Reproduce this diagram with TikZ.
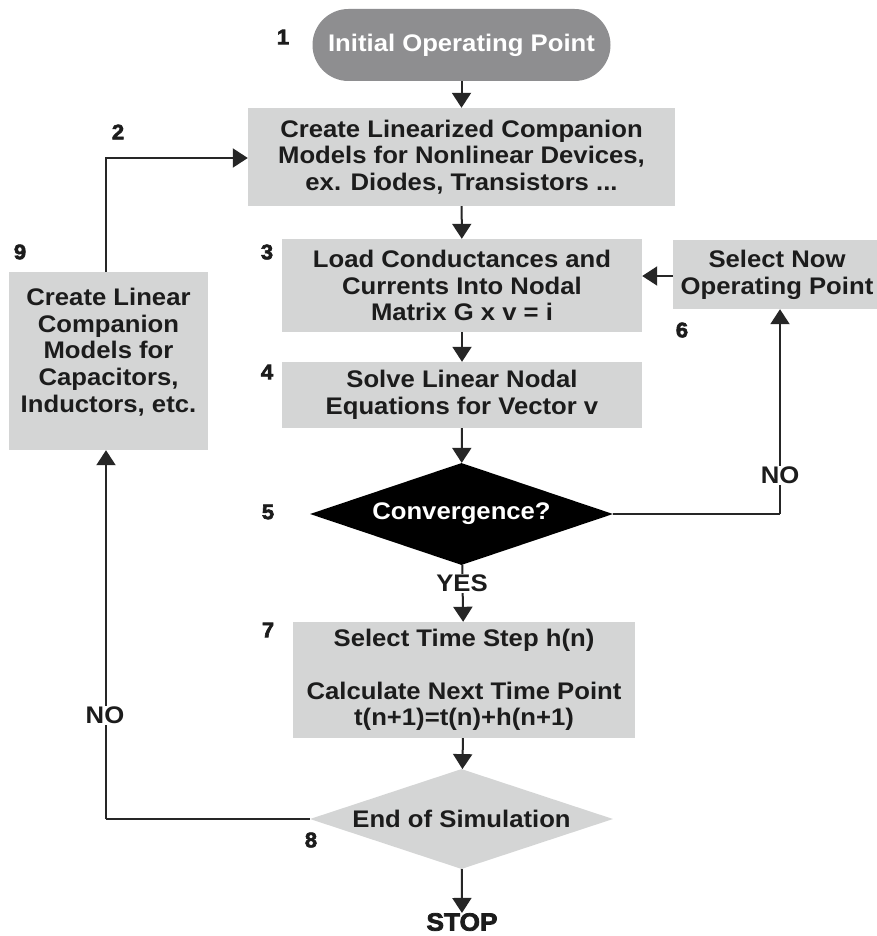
\documentclass[tikz,border=0pt]{standalone}
\usepackage{fontspec}
\setmainfont{Liberation Sans}[FakeStretch=1.07]
\newfontfamily\heavyfont{Liberation Sans}[FakeBold=3, FakeStretch=1.05]
\usetikzlibrary{arrows.meta,shapes.geometric}
\definecolor{boxgray}{HTML}{D4D5D5}
\definecolor{pillgray}{HTML}{8E8E90}
\definecolor{ink}{HTML}{1C1C1C}
\definecolor{wire}{HTML}{262626}
\tikzset{
  txt/.style={font=\bfseries\fontsize{24}{26.7}\selectfont, text=ink, align=center, inner sep=0pt},
  procbox/.style={txt, fill=boxgray, draw=none},
  pill/.style={txt, text=white, fill=pillgray, rounded corners=36pt},
  decision/.style={txt, diamond, aspect=3, inner sep=0pt},
  stepnum/.style={font=\heavyfont\bfseries\fontsize{21}{21}\selectfont, text=ink, inner sep=0pt},
  answer/.style={txt, fill=white, inner sep=1pt},
  flow/.style={draw=wire, line width=2pt, -{Triangle[length=15pt,width=19pt]}},
  wireline/.style={draw=wire, line width=2pt}
}
\begin{document}
\begin{tikzpicture}[x=1pt,y=-1pt]
\path[use as bounding box, fill=white] (0,0) rectangle (877,936);

% process blocks
\node[pill, minimum width=298pt, minimum height=72pt] (n1) at (461.5,45) {Initial Operating Point};
\node[procbox, minimum width=427pt, minimum height=98pt] (n2) at (461.5,157)
  {Create Linearized Companion\\Models for Nonlinear Devices,\\ex. Diodes, Transistors ...};
\node[procbox, minimum width=360pt, minimum height=93pt] (n3) at (462,285.5)
  {Load Conductances and\\Currents Into Nodal\\Matrix G x v = i};
\node[procbox, minimum width=360pt, minimum height=66pt] (n4) at (462,395)
  {Solve Linear Nodal\\Equations for Vector v};
\node[decision, fill=black, text=white, minimum width=303pt, minimum height=102pt] (n5) at (461.5,514)
  {Convergence?};
\node[procbox, minimum width=208pt, minimum height=69pt] (n6) at (777,274.5)
  {Select Now\\Operating Point};
\node[procbox, minimum width=342pt, minimum height=116pt] (n7) at (464,680)
  {Select Time Step h(n)\\[26pt]Calculate Next Time Point\\t(n+1)=t(n)+h(n+1)};
\node[decision, fill=boxgray, minimum width=303pt, minimum height=100pt] (n8) at (461.5,819)
  {End of Simulation};
\node[procbox, minimum width=199pt, minimum height=178pt] (n9) at (108.5,361) {};
\node[txt] (t9) at (108.5,352)
  {Create Linear\\Companion\\Models for\\Capacitors,\\Inductors, etc.};
\node[txt, font=\heavyfont\bfseries\fontsize{25}{25}\selectfont] (stop) at (462,922) {STOP};

% step numbers
\node[stepnum] (s1) at (283,37) {1};
\node[stepnum] (s2) at (118,132) {2};
\node[stepnum] (s3) at (267,252) {3};
\node[stepnum] (s4) at (267,372) {4};
\node[stepnum] (s5) at (268,512) {5};
\node[stepnum] (s6) at (682,330) {6};
\node[stepnum] (s7) at (268,630) {7};
\node[stepnum] (s8) at (311,840) {8};
\node[stepnum] (s9) at (20,252) {9};

% bend points of the loops
\coordinate (c5) at (780,514);
\coordinate (c8) at (106,819);
\coordinate (c9) at (106,158);

% main sequence
\draw[flow] (n1) -- (n2);
\draw[flow] (n2) -- (n3);
\draw[flow] (n3) -- (n4);
\draw[flow] (n4) -- (n5);
\draw[flow] (n5) -- (n7);
\draw[flow] (n7) -- (n8);
\draw[flow] (n8) -- (stop);

% convergence loop
\draw[wireline] (n5.east) -- (c5);
\draw[flow] (c5) -- (c5 |- n6.south);
\draw[flow] (n6.west |- 0,276) -- (n3.east |- 0,276);

% time step loop
\draw[wireline] (n8.west) -- (c8);
\draw[flow] (c8) -- (c8 |- n9.south);
\draw[flow] (c9 |- n9.north) -- (c9) -- (c9 -| n2.west);

% branch labels
\node[answer] (yes) at (462,583) {YES};
\node[answer] (noright) at (780,475) {NO};
\node[answer] (noleft) at (105,715) {NO};
\end{tikzpicture}
\end{document}
